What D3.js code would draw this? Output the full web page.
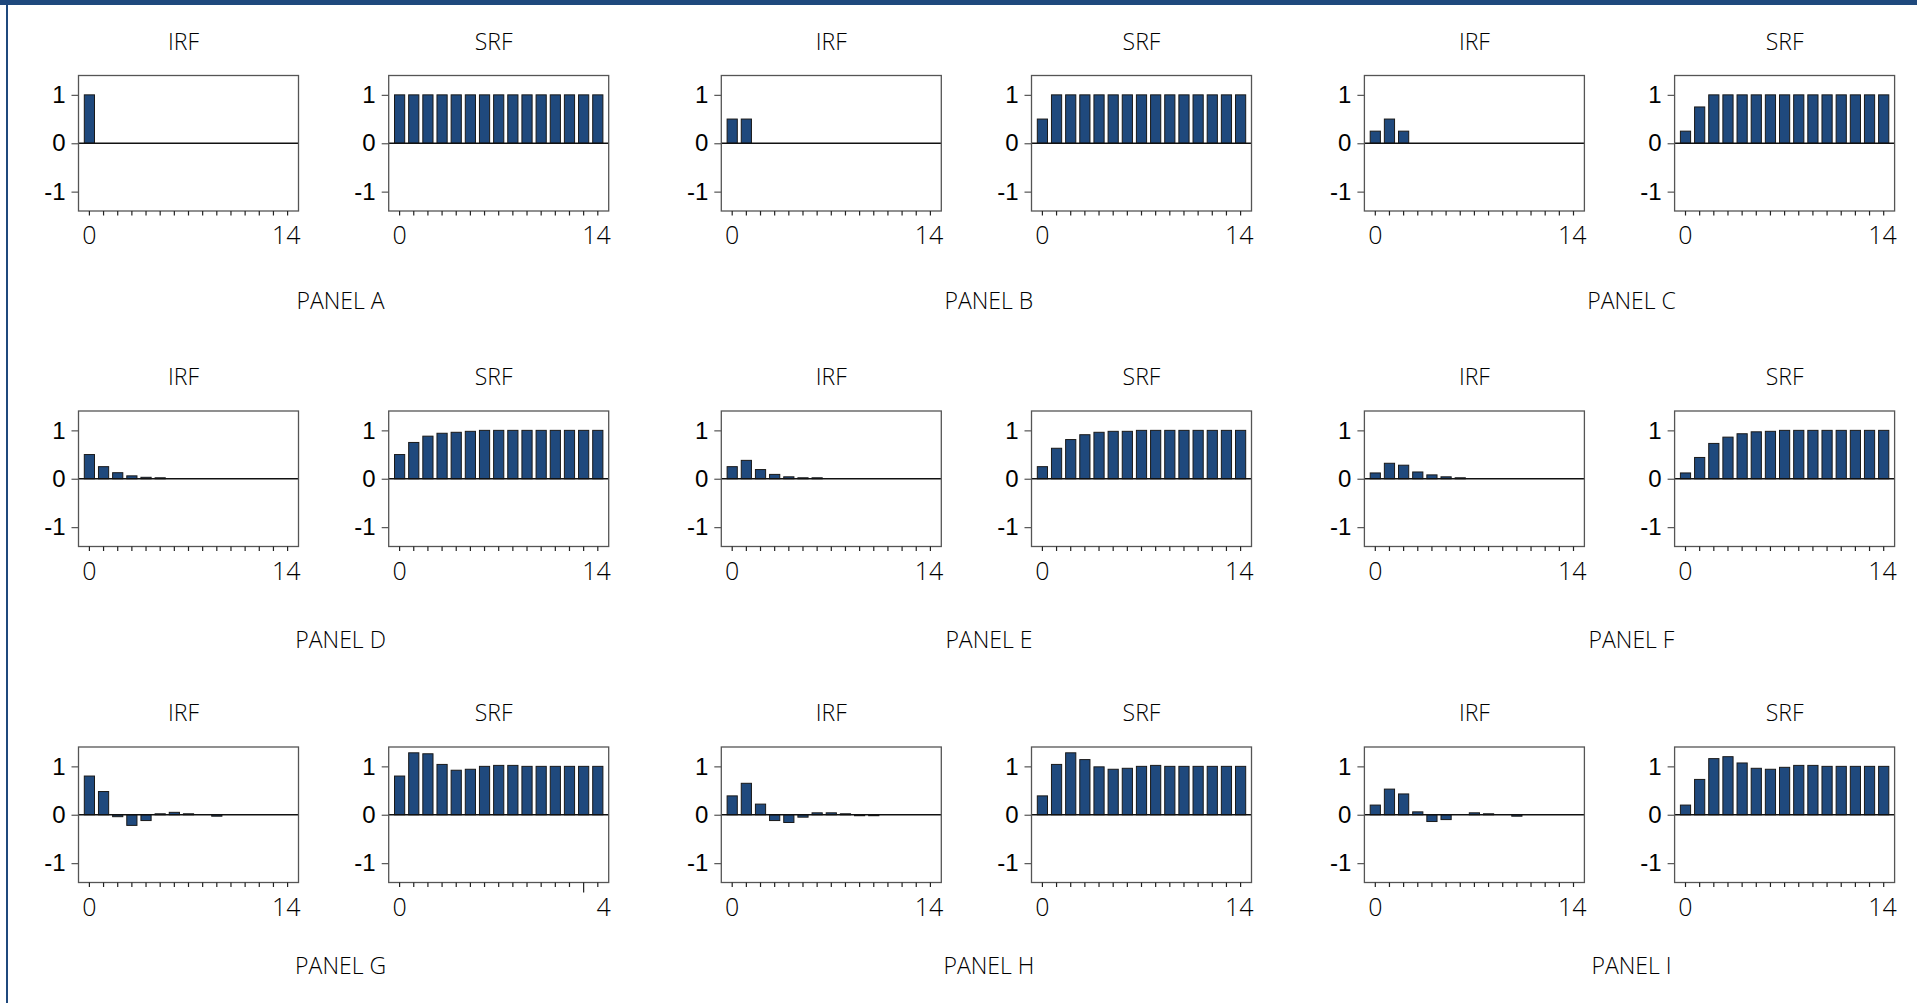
<!DOCTYPE html>
<html>
<head>
<meta charset="utf-8">
<script src="https://cdn.jsdelivr.net/npm/d3@7"></script>
<style>
  body { margin: 0; background: #fff; }
  svg { display: block; font-family: "Open Sans", "Noto Sans", sans-serif; font-weight: 300; }
</style>
</head>
<body>
<svg id="chart" width="1917" height="1003"></svg>
<script>
// lags on the horizontal axis and the value ticks
const lags = d3.range(0, 15);
const yTicks = [-1, 0, 1];
const panelNames = ["PANEL A", "PANEL B", "PANEL C", "PANEL D", "PANEL E", "PANEL F", "PANEL G", "PANEL H", "PANEL I"];
const chartTitles = ["IRF", "SRF"];
const xLabels = ["0", "14"];
const xLabelsG = ["0", "4"]; // the SRF of panel G is labelled like this in the original

// impulse (IRF) and step (SRF) responses
const irfA = [1, 0, 0, 0, 0, 0, 0, 0, 0, 0, 0, 0, 0, 0, 0];
const srfA = [1, 1, 1, 1, 1, 1, 1, 1, 1, 1, 1, 1, 1, 1, 1];
const irfB = [0.5, 0.5, 0, 0, 0, 0, 0, 0, 0, 0, 0, 0, 0, 0, 0];
const srfB = [0.5, 1, 1, 1, 1, 1, 1, 1, 1, 1, 1, 1, 1, 1, 1];
const irfC = [0.25, 0.5, 0.25, 0, 0, 0, 0, 0, 0, 0, 0, 0, 0, 0, 0];
const srfC = [0.25, 0.75, 1, 1, 1, 1, 1, 1, 1, 1, 1, 1, 1, 1, 1];
const irfD = [0.5, 0.25, 0.125, 0.06, 0.03, 0.02, 0, 0, 0, 0, 0, 0, 0, 0, 0];
const srfD = [0.5, 0.75, 0.88, 0.94, 0.96, 0.98, 1, 1, 1, 1, 1, 1, 1, 1, 1];
const irfE = [0.25, 0.38, 0.19, 0.09, 0.04, 0.02, 0.02, 0, 0, 0, 0, 0, 0, 0, 0];
const srfE = [0.25, 0.63, 0.81, 0.91, 0.96, 0.98, 0.98, 1, 1, 1, 1, 1, 1, 1, 1];
const irfF = [0.12, 0.32, 0.28, 0.14, 0.08, 0.04, 0.02, 0, 0, 0, 0, 0, 0, 0, 0];
const srfF = [0.12, 0.44, 0.73, 0.86, 0.93, 0.97, 0.98, 1, 1, 1, 1, 1, 1, 1, 1];
const irfG = [0.8, 0.48, -0.04, -0.22, -0.12, 0.02, 0.05, 0.02, 0, -0.03, 0, 0, 0, 0, 0];
const srfG = [0.8, 1.28, 1.26, 1.04, 0.92, 0.94, 1.0, 1.02, 1.02, 1.0, 1.0, 1.0, 1.0, 1.0, 1.0];
const irfH = [0.39, 0.65, 0.22, -0.12, -0.16, -0.05, 0.04, 0.04, 0.02, -0.02, -0.02, 0, 0, 0, 0];
const srfH = [0.39, 1.04, 1.28, 1.14, 0.99, 0.94, 0.96, 1.0, 1.02, 1.0, 1.0, 1.0, 1.0, 1.0, 1.0];
const irfI = [0.2, 0.53, 0.43, 0.06, -0.14, -0.1, 0, 0.04, 0.02, 0, -0.03, 0, 0, 0, 0];
const srfI = [0.2, 0.73, 1.16, 1.2, 1.07, 0.96, 0.94, 0.98, 1.02, 1.02, 1.0, 1.0, 1.0, 1.0, 1.0];

const irfs = [irfA, irfB, irfC, irfD, irfE, irfF, irfG, irfH, irfI];
const srfs = [srfA, srfB, srfC, srfD, srfE, srfF, srfG, srfH, srfI];

const blue = "#1f497d";
const ink = "#000";
const svg = d3.select("#chart");

// frame: band across the top and a thin rule down the left
svg.append("rect").attr("x", 0).attr("y", 0).attr("width", 1917).attr("height", 5).attr("fill", blue);
svg.append("rect").attr("x", 6).attr("y", 0).attr("width", 2).attr("height", 1003).attr("fill", blue);

// layout of the 3x3 grid of panels
const plotW = 220, plotH = 135.5;
const colX = [78.5, 721.3, 1364.4];
const rowY = [75.5, 411, 747];
const srfOffset = 310.2;
const titleDx = [-5, 0, 0];
const panelLabelDx = [-3, 2.5, 2];
const panelLabelDy = [224, 228, 218];

const xScale = d3.scaleBand()
  .domain(lags)
  .range([0, plotW])
  .paddingInner(0.28)
  .paddingOuter(0.41);

const yScale = d3.scaleLinear()
  .domain([-1.4, 1.4])
  .range([plotH, 0]);

function drawChart(g, values, title, labels, longTick, dx) {
  // title above the box
  g.append("text")
    .attr("x", plotW / 2 + dx)
    .attr("y", -35)
    .attr("text-anchor", "middle")
    .attr("dominant-baseline", "central")
    .attr("font-size", 23)
    .attr("fill", ink)
    .text(title);

  // bars
  g.selectAll("rect.bar")
    .data(values.map((v, i) => ({lag: lags[i], v: v})).filter(d => d.v !== 0))
    .enter()
    .append("rect")
    .attr("class", "bar")
    .attr("x", d => xScale(d.lag))
    .attr("width", xScale.bandwidth())
    .attr("y", d => yScale(Math.max(0, d.v)))
    .attr("height", d => Math.abs(yScale(d.v) - yScale(0)))
    .attr("fill", blue)
    .attr("stroke", "#1a1a1a")
    .attr("stroke-width", 1);

  // zero line
  g.append("line")
    .attr("x1", 0).attr("x2", plotW)
    .attr("y1", yScale(0)).attr("y2", yScale(0))
    .attr("stroke", "#111").attr("stroke-width", 1.4);

  // box
  g.append("rect")
    .attr("x", 0).attr("y", 0)
    .attr("width", plotW).attr("height", plotH)
    .attr("fill", "none")
    .attr("stroke", "#555")
    .attr("stroke-width", 1.3);

  // left axis: outward ticks and labels (plain hyphen for the minus, as in the original)
  const yAxis = g.append("g")
    .call(d3.axisLeft(yScale).tickValues(yTicks).tickSize(7).tickPadding(6).tickFormat(d => String(d)));
  yAxis.select(".domain").remove();
  yAxis.selectAll(".tick line").attr("stroke", "#555").attr("stroke-width", 1.2);
  yAxis.selectAll("text")
    .attr("font-size", 24)
    .attr("font-family", null)
    .attr("fill", ink);

  // bottom axis: one small tick per lag
  const xAxis = g.append("g")
    .attr("transform", "translate(0," + plotH + ")")
    .call(d3.axisBottom(xScale).tickSize(4.5).tickFormat(""));
  xAxis.select(".domain").remove();
  xAxis.selectAll(".tick line")
    .attr("stroke", "#222")
    .attr("stroke-width", 1.2)
    .attr("y2", d => d === longTick ? 10 : 4.5);

  // first and last lag labels
  const last = lags[lags.length - 1];
  g.append("text")
    .attr("x", xScale(lags[0]) + xScale.bandwidth() / 2)
    .attr("y", plotH + 33)
    .attr("text-anchor", "middle")
    .attr("font-size", 25)
    .attr("fill", ink)
    .text(labels[0]);
  g.append("text")
    .attr("x", xScale(last) + xScale.bandwidth() / 2 + 13)
    .attr("y", plotH + 33)
    .attr("text-anchor", "end")
    .attr("font-size", 25)
    .attr("fill", ink)
    .text(labels[1]);
}

panelNames.forEach(function(name, p) {
  const col = p % 3, row = Math.floor(p / 3);
  const x0 = colX[col], y0 = rowY[row];

  const gi = svg.append("g").attr("transform", "translate(" + x0 + "," + y0 + ")");
  drawChart(gi, irfs[p], chartTitles[0], xLabels, null, titleDx[col]);

  const gs = svg.append("g").attr("transform", "translate(" + (x0 + srfOffset) + "," + y0 + ")");
  drawChart(gs, srfs[p], chartTitles[1], p === 6 ? xLabelsG : xLabels, p === 6 ? 13 : null, titleDx[col]);

  svg.append("text")
    .attr("x", x0 + (srfOffset + plotW) / 2 + panelLabelDx[col])
    .attr("y", y0 + panelLabelDy[row])
    .attr("text-anchor", "middle")
    .attr("dominant-baseline", "central")
    .attr("font-size", 23)
    .attr("fill", ink)
    .text(name);
});
</script>
</body>
</html>
